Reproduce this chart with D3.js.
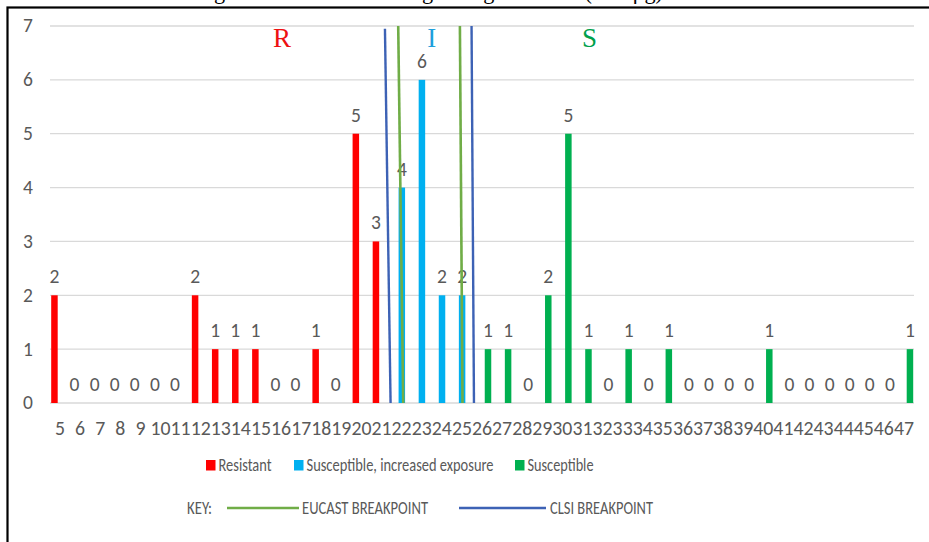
<!DOCTYPE html>
<html>
<head>
<meta charset="utf-8">
<script src="https://cdn.jsdelivr.net/npm/d3@7"></script>
<style>
  body { margin: 0; background: #fff; }
  text { font-family: Carlito, "Liberation Sans Narrow", Lato, sans-serif; }
</style>
</head>
<body>
<svg id="chart" width="929" height="542"></svg>
<script>
// zone diameters (mm) on the x axis
const zones = [5, 6, 7, 8, 9, 10, 11, 12, 13, 14, 15, 16, 17, 18, 19, 20, 21, 22, 23, 24, 25,
  26, 27, 28, 29, 30, 31, 32, 33, 34, 35, 36, 37, 38, 39, 40, 41, 42, 43, 44, 45, 46, 47];

const resistantZones = [5, 6, 7, 8, 9, 10, 11, 12, 13, 14, 15, 16, 17, 18, 19, 20, 21];
const resistantCounts = [2, 0, 0, 0, 0, 0, 0, 2, 1, 1, 1, 0, 0, 1, 0, 5, 3];

const increasedZones = [22, 23, 24, 25];
const increasedCounts = [4, 6, 2, 2];

const susceptibleZones = [26, 27, 28, 29, 30, 31, 32, 33, 34, 35, 36, 37, 38, 39, 40, 41, 42, 43, 44, 45, 46, 47];
const susceptibleCounts = [1, 1, 0, 2, 5, 1, 0, 1, 0, 1, 0, 0, 0, 0, 1, 0, 0, 0, 0, 0, 0, 1];

const yTicks = [0, 1, 2, 3, 4, 5, 6, 7];

// breakpoint lines, in zone units (top / bottom of the line)
const eucastLines = [{ top: 21.83, bottom: 22.08, topVal: 7 }, { top: 24.9, bottom: 25.03, topVal: 7 }];
const clsiLines = [{ top: 21.17, bottom: 21.45, topVal: 6.95 }, { top: 25.48, bottom: 25.6, topVal: 7 }];

// category letters
const zoneLetters = [
  { t: 'R', zone: 16.05, color: '#ee1111' },
  { t: 'I', zone: 23.5, color: '#1e9fdc' },
  { t: 'S', zone: 31.35, color: '#00a04c' }
];

const series = [
  { name: 'Resistant', color: '#ff0000', zones: resistantZones, counts: resistantCounts },
  { name: 'Susceptible, increased exposure', color: '#00b0f0', zones: increasedZones, counts: increasedCounts },
  { name: 'Susceptible', color: '#00b050', zones: susceptibleZones, counts: susceptibleCounts }
];

const svg = d3.select('#chart');
const margin = { left: 50, right: 15, top: 26, bottom: 139 };
const W = 929, H = 542;

// frame (extends past the picture on right / bottom)
svg.append('rect')
  .attr('x', 7.5).attr('y', 7.5)
  .attr('width', 1000).attr('height', 1000)
  .attr('fill', 'none')
  .attr('stroke', '#000')
  .attr('stroke-width', 2.2);

// title, mostly cut off above the frame
svg.append('text')
  .attr('x', 198).attr('y', -1)
  .style('font-family', '"Liberation Serif", "Times New Roman", serif')
  .style('font-size', '23px')
  .attr('textLength', 465)
  .attr('lengthAdjust', 'spacingAndGlyphs')
  .attr('fill', '#000')
  .text('Agar zone diameter histogram against disk (mm/μg)');

let x = d3.scaleBand()
  .domain(zones)
  .range([margin.left, W - margin.right])
  .paddingInner(0)
  .paddingOuter(0);

let xMid = d3.scaleLinear()
  .domain([zones[0], zones[zones.length - 1]])
  .range([x(zones[0]) + x.bandwidth() / 2, x(zones[zones.length - 1]) + x.bandwidth() / 2]);

let x1 = d3.scalePoint()
  .domain(series.map(s => s.name))
  .range([-5.6, 6]);

let y = d3.scaleLinear()
  .domain([0, 7])
  .range([H - margin.bottom, margin.top]);

// gridlines
svg.append('g')
  .selectAll('line')
  .data(yTicks)
  .enter().append('line')
  .attr('x1', margin.left).attr('x2', W - margin.right)
  .attr('y1', d => y(d)).attr('y2', d => y(d))
  .attr('stroke', '#d9d9d9')
  .attr('stroke-width', 1.3);

// y labels
svg.append('g')
  .selectAll('text')
  .data(yTicks)
  .enter().append('text')
  .attr('x', 33)
  .attr('y', d => y(d))
  .attr('dy', '0.33em')
  .attr('text-anchor', 'end')
  .attr('fill', '#595959')
  .style('font-size', '19.5px')
  .text(d => d);

// x labels
svg.append('g')
  .selectAll('text')
  .data(zones)
  .enter().append('text')
  .attr('x', d => x(d) + x.bandwidth() / 2)
  .attr('y', 428)
  .attr('dy', '0.33em')
  .attr('text-anchor', 'middle')
  .attr('fill', '#595959')
  .style('font-size', '19.8px')
  .text(d => d);

const barW = 6.5;

series.forEach(s => {
  let pts = s.zones.map((z, i) => ({ zone: z, count: s.counts[i] }));
  let cx = d => x(d.zone) + x.bandwidth() / 2 + x1(s.name);

  svg.append('g')
    .selectAll('rect')
    .data(pts)
    .enter().append('rect')
    .attr('x', d => cx(d) - barW / 2)
    .attr('y', d => y(d.count))
    .attr('width', barW)
    .attr('height', d => y(0) - y(d.count))
    .attr('fill', s.color);

  svg.append('g')
    .selectAll('text')
    .data(pts)
    .enter().append('text')
    .attr('x', d => cx(d))
    .attr('y', d => y(d.count) - 12)
    .attr('text-anchor', 'middle')
    .attr('fill', '#595959')
    .style('font-size', '19.5px')
    .text(d => d.count);
});

// breakpoint lines
function drawLines(data, color, width) {
  svg.append('g')
    .selectAll('line')
    .data(data)
    .enter().append('line')
    .attr('x1', d => xMid(d.top)).attr('y1', d => y(d.topVal))
    .attr('x2', d => xMid(d.bottom)).attr('y2', y(0))
    .attr('stroke', color)
    .attr('stroke-width', width);
}
drawLines(clsiLines, '#3d62b5', 2.4);
drawLines(eucastLines, '#70ad47', 2.6);

// R / I / S
svg.append('g')
  .selectAll('text')
  .data(zoneLetters)
  .enter().append('text')
  .attr('x', d => xMid(d.zone))
  .attr('y', 47)
  .attr('text-anchor', 'middle')
  .attr('fill', d => d.color)
  .style('font-family', '"Liberation Serif", "Times New Roman", serif')
  .style('font-size', '27px')
  .text(d => d.t);

// legend
const legendX = [206, 294, 515];
const legendLen = [53, 187, 66];
let leg = svg.append('g')
  .selectAll('g')
  .data(series)
  .enter().append('g')
  .attr('transform', (d, i) => 'translate(' + legendX[i] + ',465)');
leg.append('rect')
  .attr('x', 0).attr('y', -5)
  .attr('width', 9.5).attr('height', 10.5)
  .attr('fill', d => d.color);
leg.append('text')
  .attr('x', 12.5).attr('dy', '0.35em')
  .attr('fill', '#595959')
  .style('font-size', '18px')
  .attr('textLength', (d, i) => legendLen[i])
  .attr('lengthAdjust', 'spacingAndGlyphs')
  .text(d => d.name);

// key row
let key = svg.append('g').attr('transform', 'translate(0,508)');
function keyText(xPos, len, t) {
  key.append('text')
    .attr('x', xPos).attr('dy', '0.35em')
    .attr('fill', '#595959').style('font-size', '18px')
    .attr('textLength', len)
    .attr('lengthAdjust', 'spacingAndGlyphs')
    .text(t);
}
keyText(187, 25, 'KEY:');
key.append('line')
  .attr('x1', 227).attr('x2', 299)
  .attr('stroke', '#70ad47').attr('stroke-width', 2.6);
keyText(302, 126, 'EUCAST BREAKPOINT');
key.append('line')
  .attr('x1', 459).attr('x2', 546)
  .attr('stroke', '#3d62b5').attr('stroke-width', 2.6);
keyText(550, 103, 'CLSI BREAKPOINT');
</script>
</body>
</html>
